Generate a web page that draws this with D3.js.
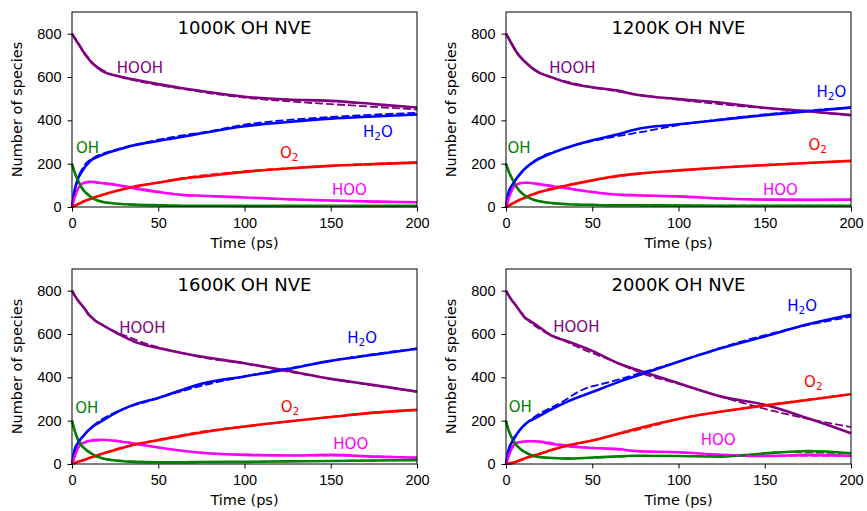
<!DOCTYPE html>
<html>
<head>
<meta charset="utf-8">
<script src="https://cdn.jsdelivr.net/npm/d3@7"></script>
<style>
  body { margin: 0; background: #fff; }
  svg { font-family: "DejaVu Sans", sans-serif; }
</style>
</head>
<body>
<div id="chart"></div>
<script>
// sample times (ps) of the simulation traces
const times = [0, 1.5, 3.5, 5.5, 7.5, 9.5, 11, 13, 17, 27, 36, 50, 65, 75, 100, 125, 150, 175, 200];
// sample times (ps) of the fitted curves
const fitTimes = [0, 3, 7, 12, 20, 30, 45, 60, 80, 100, 130, 160, 200];

const xTicks = [0, 50, 100, 150, 200];
const yTicks = [0, 200, 400, 600, 800];

// 1000K
const hooh1000 = [800, 780, 755, 730, 705, 685, 670, 655, 630, 603, 588, 567, 547, 535, 509, 496, 490, 475, 459];
const h2o1000  = [0, 77, 131, 160, 185, 203, 216, 225, 239, 265, 285, 305, 325, 340, 373, 392, 408, 418, 427];
const o21000   = [0, 5, 13, 21, 28, 34, 38, 44, 54, 77, 95, 112, 132, 140, 162, 178, 190, 198, 205];
const hoo1000  = [0, 45, 85, 105, 112, 116, 116, 115, 111, 100, 86, 69, 55, 52, 44, 36, 30, 25, 22];
const oh1000   = [200, 160, 123, 90, 70, 55, 45, 36, 24, 15, 11, 8, 6, 6, 5, 5, 5, 5, 5];
const hooh1000Fit = [800, 765, 715, 665, 622, 596, 570, 550, 525, 505, 485, 470, 450];
const h2o1000Fit  = [0, 120, 190, 225, 252, 275, 302, 325, 350, 380, 405, 420, 435];
const o21000Fit   = [0, 11, 28, 42, 62, 82, 106, 128, 150, 165, 182, 195, 207];
const hoo1000Fit  = [0, 75, 112, 115, 108, 98, 78, 60, 50, 44, 34, 28, 22];
const oh1000Fit   = [200, 130, 78, 43, 22, 13, 8, 6, 5, 5, 5, 5, 5];

// 1200K
const hooh1200 = [800, 778, 750, 722, 700, 682, 670, 655, 630, 597, 573, 552, 537, 519, 498, 481, 458, 442, 424];
const h2o1200  = [0, 69, 100, 125, 146, 165, 177, 190, 213, 250, 276, 308, 336, 358, 382, 403, 424, 442, 459];
const o21200   = [0, 6, 15, 23, 31, 38, 43, 50, 62, 83, 100, 123, 144, 153, 169, 182, 193, 203, 213];
const hoo1200  = [0, 40, 80, 100, 108, 111, 112, 112, 108, 96, 85, 69, 57, 54, 49, 39, 34, 33, 34];
const oh1200   = [200, 165, 131, 100, 78, 62, 52, 43, 31, 18, 13, 10, 8, 8, 7, 6, 6, 6, 6];
const hooh1200Fit = [800, 760, 707, 665, 618, 590, 561, 540, 515, 495, 470, 450, 425];
const h2o1200Fit  = [0, 88, 140, 185, 230, 260, 295, 320, 348, 378, 410, 435, 460];
const o21200Fit   = [0, 12, 30, 48, 72, 92, 115, 135, 155, 168, 186, 199, 213];
const hoo1200Fit  = [0, 70, 106, 112, 104, 95, 76, 60, 52, 48, 38, 34, 34];
const oh1200Fit   = [200, 140, 83, 48, 25, 16, 11, 8, 7, 7, 6, 6, 6];

// 1600K
const hooh1600 = [800, 778, 755, 735, 715, 690, 680, 665, 645, 600, 565, 535, 510, 496, 465, 430, 393, 365, 334];
const h2o1600  = [0, 66, 97, 120, 138, 155, 166, 178, 197, 243, 274, 305, 345, 370, 404, 438, 476, 504, 532];
const o21600   = [0, 4, 10, 15, 20, 26, 30, 35, 46, 69, 89, 110, 132, 145, 173, 196, 217, 237, 250];
const hoo1600  = [0, 35, 74, 95, 100, 106, 108, 110, 112, 105, 94, 76, 60, 52, 42, 39, 42, 34, 29];
const oh1600   = [200, 155, 112, 86, 70, 58, 50, 40, 28, 15, 10, 8, 8, 9, 10, 12, 14, 16, 18];
const hooh1600Fit = [800, 760, 720, 672, 630, 595, 550, 520, 485, 465, 420, 380, 334];
const h2o1600Fit  = [0, 90, 133, 175, 218, 255, 292, 328, 370, 404, 448, 490, 533];
const o21600Fit   = [0, 8, 19, 33, 55, 78, 104, 128, 155, 173, 200, 225, 250];
const hoo1600Fit  = [0, 65, 98, 108, 110, 103, 83, 65, 50, 44, 40, 38, 30];
const oh1600Fit   = [200, 122, 72, 45, 22, 14, 9, 8, 9, 10, 13, 15, 18];

// 2000K
const hooh2000 = [800, 778, 755, 735, 712, 690, 675, 665, 645, 590, 565, 522, 465, 437, 373, 311, 273, 211, 142];
const h2o2000  = [0, 66, 101, 128, 151, 170, 182, 195, 212, 255, 289, 332, 378, 405, 472, 535, 589, 645, 689];
const o22000   = [0, 1, 4, 9, 15, 21, 26, 31, 40, 66, 86, 108, 140, 162, 208, 242, 270, 295, 322];
const hoo2000  = [0, 35, 74, 95, 100, 103, 104, 105, 105, 92, 82, 74, 69, 60, 54, 42, 37, 42, 37];
const oh2000   = [200, 155, 120, 92, 75, 62, 55, 46, 35, 28, 25, 30, 35, 38, 37, 34, 49, 60, 49];
const hooh2000Fit = [800, 760, 718, 670, 620, 583, 528, 482, 415, 370, 298, 235, 170];
const h2o2000Fit  = [0, 94, 148, 190, 235, 275, 345, 378, 425, 472, 550, 615, 680];
const o22000Fit   = [0, 6, 15, 30, 50, 75, 100, 128, 165, 208, 248, 282, 322];
const hoo2000Fit  = [0, 65, 99, 104, 104, 92, 78, 70, 57, 54, 40, 38, 37];
const oh2000Fit   = [200, 128, 78, 52, 32, 27, 27, 32, 38, 37, 36, 55, 49];

const colors = { HOOH: "#800080", H2O: "#0000ff", O2: "#ff0000", HOO: "#ff00ff", OH: "#008000" };

const panels = [
  { title: "1000K OH NVE", col: 0, row: 0,
    data: { HOOH: hooh1000, H2O: h2o1000, HOO: hoo1000, O2: o21000, OH: oh1000 },
    fit:  { HOOH: hooh1000Fit, H2O: h2o1000Fit, HOO: hoo1000Fit, O2: o21000Fit, OH: oh1000Fit },
    labels: { HOOH: [26, 617], H2O: [168.7, 324], O2: [120.6, 226], HOO: [150.7, 57], OH: [2.3, 250] } },
  { title: "1200K OH NVE", col: 1, row: 0,
    data: { HOOH: hooh1200, H2O: h2o1200, HOO: hoo1200, O2: o21200, OH: oh1200 },
    fit:  { HOOH: hooh1200Fit, H2O: h2o1200Fit, HOO: hoo1200Fit, O2: o21200Fit, OH: oh1200Fit },
    labels: { HOOH: [25.1, 617], H2O: [180, 506], O2: [175.3, 262], HOO: [149, 57], OH: [0.8, 250] } },
  { title: "1600K OH NVE", col: 0, row: 1,
    data: { HOOH: hooh1600, H2O: h2o1600, HOO: hoo1600, O2: o21600, OH: oh1600 },
    fit:  { HOOH: hooh1600Fit, H2O: h2o1600Fit, HOO: hoo1600Fit, O2: o21600Fit, OH: oh1600Fit },
    labels: { HOOH: [27.4, 603], H2O: [159.6, 557], O2: [121, 238], HOO: [151.5, 68], OH: [1.9, 234] } },
  { title: "2000K OH NVE", col: 1, row: 1,
    data: { HOOH: hooh2000, H2O: h2o2000, HOO: hoo2000, O2: o22000, OH: oh2000 },
    fit:  { HOOH: hooh2000Fit, H2O: h2o2000Fit, HOO: hoo2000Fit, O2: o22000Fit, OH: oh2000Fit },
    labels: { HOOH: [27.4, 610], H2O: [163, 707], O2: [172.8, 354], HOO: [112.9, 88], OH: [1.6, 238] } }
];

const width = 867, height = 511;
const colLeft = [72, 506], rowTop = [12, 269];
const pw = 345, ph = 195;

const svg = d3.select("#chart").append("svg")
  .attr("width", width)
  .attr("height", height);

panels.forEach(p => {
  let left = colLeft[p.col], top = rowTop[p.row];
  let g = svg.append("g").attr("transform", `translate(${left},${top})`);

  let x = d3.scaleLinear().domain([0, 200]).range([0, pw]);
  let y = d3.scaleLinear().domain([0, 900]).range([ph, 0]);

  let line = d3.line().curve(d3.curveMonotoneX);

  // simulation traces
  Object.keys(p.data).forEach(k => {
    g.append("path")
      .attr("d", line(times.map((t, i) => [x(t), y(p.data[k][i])])))
      .attr("fill", "none")
      .attr("stroke", colors[k])
      .attr("stroke-width", 2.6)
      .attr("stroke-linejoin", "round");
  });

  // fits, dashed
  Object.keys(p.fit).forEach(k => {
    g.append("path")
      .attr("d", line(fitTimes.map((t, i) => [x(t), y(p.fit[k][i])])))
      .attr("fill", "none")
      .attr("stroke", colors[k])
      .attr("stroke-width", 1.8)
      .attr("stroke-dasharray", "8,3");
  });

  // species labels
  Object.keys(p.labels).forEach(k => {
    let pos = p.labels[k];
    let txt = g.append("text")
      .attr("x", x(pos[0]))
      .attr("y", y(pos[1]))
      .attr("fill", colors[k])
      .style("font-size", "15px");
    if (k == "H2O") {
      txt.append("tspan").text("H");
      txt.append("tspan").text("2").style("font-size", "10.5px").attr("dy", 3);
      txt.append("tspan").text("O").attr("dy", -3);
    } else if (k == "O2") {
      txt.append("tspan").text("O");
      txt.append("tspan").text("2").style("font-size", "10.5px").attr("dy", 3);
    } else {
      txt.text(k);
    }
  });

  let xAxis = d3.axisBottom(x).tickValues(xTicks).tickSize(4.5).tickPadding(6.5).tickSizeOuter(0);
  let yAxis = d3.axisLeft(y).tickValues(yTicks).tickSize(4.5).tickPadding(6).tickSizeOuter(0);

  g.append("g")
    .attr("class", "x-axis")
    .attr("transform", `translate(0,${ph})`)
    .call(xAxis);
  g.append("g")
    .attr("class", "y-axis")
    .call(yAxis);

  g.selectAll(".tick text").style("font-size", "14.5px").attr("fill", "#000");
  g.selectAll(".tick line").attr("stroke", "#000");
  g.selectAll(".domain").remove();

  // frame
  g.append("rect")
    .attr("width", pw)
    .attr("height", ph)
    .attr("fill", "none")
    .attr("stroke", "#000")
    .attr("stroke-width", 1);

  g.append("text")
    .attr("x", pw / 2)
    .attr("y", 22.3)
    .attr("text-anchor", "middle")
    .style("font-size", "18px")
    .text(p.title);

  g.append("text")
    .attr("x", pw / 2)
    .attr("y", ph + 40.8)
    .attr("text-anchor", "middle")
    .style("font-size", "14.5px")
    .text("Time (ps)");

  g.append("text")
    .attr("transform", `translate(${-50},${ph / 2}) rotate(-90)`)
    .attr("text-anchor", "middle")
    .style("font-size", "14.5px")
    .text("Number of species");
});
</script>
</body>
</html>
